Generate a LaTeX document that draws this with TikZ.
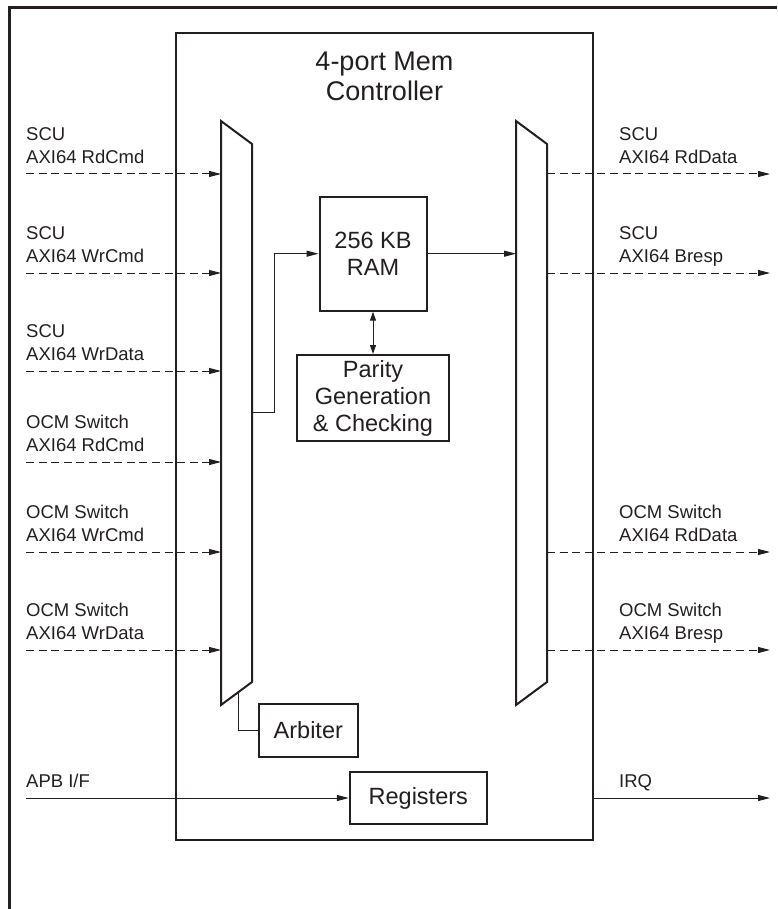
\documentclass[tikz,border=0pt]{standalone}
\usepackage{fontspec}
\setmainfont{Liberation Sans}
\usepackage{tikz}
\usetikzlibrary{arrows.meta,positioning}
\definecolor{ink}{HTML}{231F20}

\begin{document}
\begin{tikzpicture}[
  x=1pt, y=-1pt,
  box/.style={draw=ink, line width=2pt, align=center, inner sep=0pt, text=ink,
              font=\fontsize{23.5}{27}\selectfont},
  ttl/.style={align=center, inner sep=0pt, text depth=0pt, text=ink,
              font=\fontsize{27}{30}\selectfont},
  lbl/.style={align=left, inner sep=0pt, text depth=0pt, text=ink,
              font=\fontsize{18.5}{23}\selectfont},
  mux/.style={draw=ink, line width=2pt, line join=miter},
  wire/.style={draw=ink, line width=1pt},
  bus/.style={wire, dash pattern=on 8pt off 4.6pt},
  tip/.style={-{Triangle[length=12pt,width=6pt]}},
  frame/.style={draw=ink, line width=2.5pt}
]
  \useasboundingbox (0,0) rectangle (777,909);
  \draw[frame] (9.3,909) |- (777,7.3);

  % controller and title
  \node[box, minimum width=417pt, minimum height=807pt] (ctrl) at (384.5,436.5) {};
  \node[ttl, anchor=south] (title) at (384.5,101) {4-port Mem\\Controller};

  % muxes
  \draw[mux] (221,121) -- (252,144) -- (252,682) -- (221,705) -- cycle;
  \draw[mux] (516,121) -- (547,144) -- (547,682) -- (516,705) -- cycle;
  \coordinate (muxL) at (221,0);
  \coordinate (muxR) at (516,0);
  \coordinate (muxRout) at (547,0);

  % blocks
  \node[box, minimum width=107pt, minimum height=114pt] (ram) at (373,253.7) {256 KB\\RAM};
  \node[box, minimum width=152pt, minimum height=86pt] (parity) at (373,398)
    {Parity\\Generation\\\& Checking};
  \node[box, minimum width=99pt, minimum height=53pt] (arbiter) at (308.3,730) {Arbiter};
  \node[box, minimum width=137pt, minimum height=52pt] (registers) at (418.3,798) {Registers};

  % inputs
  \coordinate (scuRdCmd) at (26,174);
  \coordinate (scuWrCmd) at (26,273);
  \coordinate (scuWrData) at (26,371);
  \coordinate (ocmRdCmd) at (26,462);
  \coordinate (ocmWrCmd) at (26,552);
  \coordinate (ocmWrData) at (26,650);
  \coordinate (apb) at (26,798);

  \node[lbl, above right=10pt and 0pt of scuRdCmd] (lScuRdCmd) {SCU\\AXI64 RdCmd};
  \node[lbl, above right=10pt and 0pt of scuWrCmd] (lScuWrCmd) {SCU\\AXI64 WrCmd};
  \node[lbl, above right=10pt and 0pt of scuWrData] (lScuWrData) {SCU\\AXI64 WrData};
  \node[lbl, above right=10pt and 0pt of ocmRdCmd] (lOcmRdCmd) {OCM Switch\\AXI64 RdCmd};
  \node[lbl, above right=10pt and 0pt of ocmWrCmd] (lOcmWrCmd) {OCM Switch\\AXI64 WrCmd};
  \node[lbl, above right=10pt and 0pt of ocmWrData] (lOcmWrData) {OCM Switch\\AXI64 WrData};
  \node[lbl, above right=10pt and 0pt of apb] (lApb) {APB I/F};

  \draw[bus, tip] (scuRdCmd) -- (scuRdCmd -| muxL);
  \draw[bus, tip] (scuWrCmd) -- (scuWrCmd -| muxL);
  \draw[bus, tip] (scuWrData) -- (scuWrData -| muxL);
  \draw[bus, tip] (ocmRdCmd) -- (ocmRdCmd -| muxL);
  \draw[bus, tip] (ocmWrCmd) -- (ocmWrCmd -| muxL);
  \draw[bus, tip] (ocmWrData) -- (ocmWrData -| muxL);
  \draw[wire, tip] (apb) -- (registers.west);

  % outputs
  \coordinate (scuRdData) at (770,174);
  \coordinate (scuBresp) at (770,273);
  \coordinate (ocmRdData) at (770,552);
  \coordinate (ocmBresp) at (770,650);
  \coordinate (irq) at (770,798);

  \node[lbl, anchor=south west] (lScuRdData) at (619,164) {SCU\\AXI64 RdData};
  \node[lbl, anchor=south west] (lScuBresp) at (619,263) {SCU\\AXI64 Bresp};
  \node[lbl, anchor=south west] (lOcmRdData) at (619,542) {OCM Switch\\AXI64 RdData};
  \node[lbl, anchor=south west] (lOcmBresp) at (619,640) {OCM Switch\\AXI64 Bresp};
  \node[lbl, anchor=south west] (lIrq) at (619,788) {IRQ};

  \draw[bus, tip] (scuRdData -| muxRout) -- (scuRdData);
  \draw[bus, tip] (scuBresp -| muxRout) -- (scuBresp);
  \draw[bus, tip] (ocmRdData -| muxRout) -- (ocmRdData);
  \draw[bus, tip] (ocmBresp -| muxRout) -- (ocmBresp);
  \draw[wire, tip] (irq -| ctrl.east) -- (irq);

  % internal paths
  \coordinate (tap) at (252,412);
  \coordinate (arbTap) at (238.3,692.4);
  \draw[wire, tip] (tap) -- ++(22,0) |- (ram.west);
  \draw[wire, tip] (ram.east) -- (ram.east -| muxR);
  \draw[wire, {Triangle[length=9pt,width=6pt]}-{Triangle[length=9pt,width=6pt]}]
    (ram.south) -- (parity.north);
  \draw[wire] (arbTap) |- (arbiter.west);
\end{tikzpicture}
\end{document}
